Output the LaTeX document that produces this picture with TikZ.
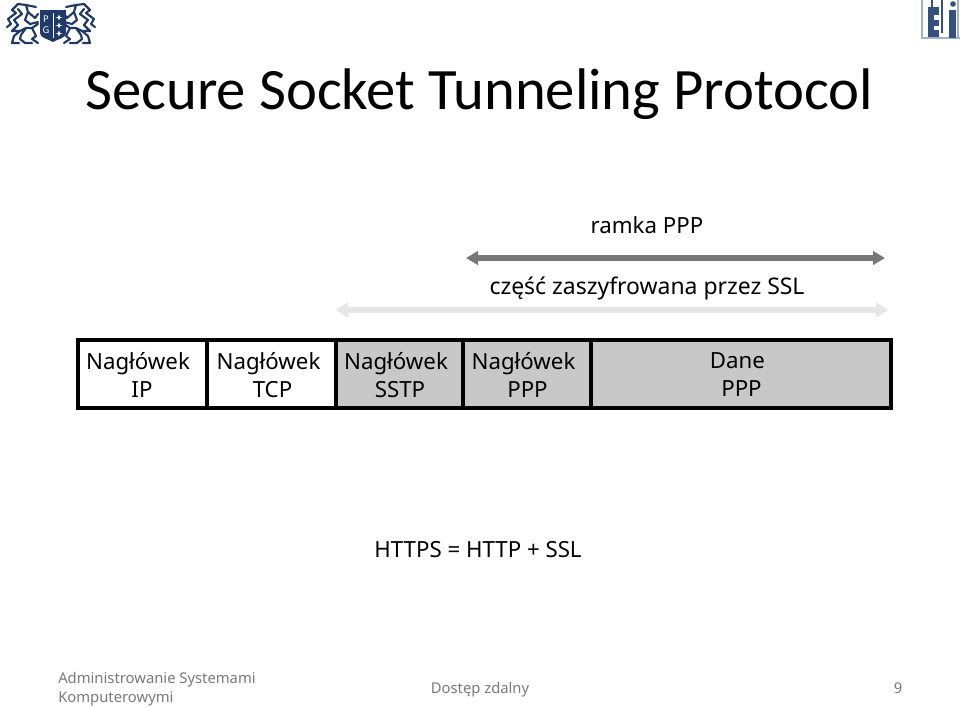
\documentclass[tikz,border=0pt]{standalone}
\usepackage{fontspec}
\setmainfont{Noto Sans}
\newfontfamily\titlefont{Carlito}
\definecolor{logoblue}{HTML}{1F3A68}
\definecolor{etiblue}{HTML}{34507F}
\definecolor{cellgray}{HTML}{C8C8C8}
\definecolor{arrowdark}{HTML}{777777}
\definecolor{arrowlight}{HTML}{E6E6E6}
\definecolor{footgray}{HTML}{7A7A7A}
\usetikzlibrary{arrows.meta}
\newcommand{\lineshift}{\hspace*{6pt}}
\tikzset{
 px/.style={x=0.75pt,y=-0.75pt},
 lab/.style={font=\fontsize{16.7pt}{21pt}\selectfont,text=black,inner sep=0pt,align=center},
 foot/.style={font=\fontsize{11.1pt}{14.2pt}\selectfont,text=footgray,inner sep=0pt,align=left},
 cell/.style={draw=black,line width=3pt,minimum height=51pt,inner sep=0pt,outer sep=0pt,anchor=west},
 span/.style={line width=4.2pt},
}
\begin{document}
\begin{tikzpicture}[px]
\useasboundingbox (0,0) rectangle (960,707);
\fill[white] (0,0) rectangle (960,707);

% university emblem
\begin{scope}[logoblue]
\fill (40,10) -- (66,10) -- (66,33) .. controls (66,38) and (58,39) .. (53,42) .. controls (48,39) and (40,38) .. (40,33) -- cycle;
\node[text=white,font=\fontsize{7pt}{7pt}\selectfont\bfseries,inner sep=0pt] at (46,19) {P};
\node[text=white,font=\fontsize{7pt}{7pt}\selectfont\bfseries,inner sep=0pt] at (46,30) {G};
\fill[white] (52.6,13) rectangle (53.6,38);
\foreach \yy in {17,25,33}{\fill[white] (59,\yy-2.5) -- (60,\yy) -- (62.5,\yy+.5) -- (60,\yy+1) -- (59,\yy+3.5) -- (58,\yy+1) -- (55.5,\yy+.5) -- (58,\yy) -- cycle;}
\foreach \m/\s in {0/1,102/-1}{
 \begin{scope}[shift={(\m,0)},xscale=\s]
 \draw[line width=1.6pt,line cap=round,line join=round]
   (36,7) -- (26,5) -- (18,4) -- (12,10) -- (16,13) -- (8,19) -- (11,24) -- (7,27)
   (18,9) -- (22,14) -- (14,20) -- (18,25) -- (12,31)
   (26,5) -- (28,12) -- (35,18) -- (38,14)
   (28,12) -- (25,20) -- (30,24) -- (38,22)
   (12,31) -- (20,31) -- (26,28) -- (32,28) -- (38,24)
   (20,31) -- (14,36) -- (12,43) -- (19,43)
   (26,28) -- (21,35) -- (20,39) -- (25,43) -- (32,43)
   (32,28) -- (36,36) -- (32,39) -- (38,43);
 \end{scope}}
\end{scope}

% faculty logo
\draw[line width=0.9pt,etiblue!45!white] (922,-1) -- (922,38) -- (961,38);
\draw[line width=0.9pt,etiblue!45!white] (958,0) -- (958,38);
\fill[etiblue] (928,7) rectangle (939,37);
\fill[white] (934,15) rectangle (939,20);
\fill[white] (934,26) rectangle (939,30);
\draw[line width=0.8pt,etiblue] (932,0) -- (932,7);
\draw[line width=0.8pt,etiblue] (942,0) -- (942,33);
\fill[etiblue] (949,10) rectangle (956,38);
\fill[etiblue] (953,4) circle (2.8);

% title
\node[font=\titlefont\fontsize{44pt}{48pt}\selectfont,text=black,inner sep=0pt,anchor=base west] (title) at (85,109) {Secure Socket Tunneling Protocol};

% labels
\node[lab] (ramka) at (647,225) {ramka PPP};
\node[lab,font=\fontsize{17.2pt}{21pt}\selectfont] (szyfr) at (647,288) {część zaszyfrowana przez SSL};

% spans
\coordinate (a1) at (466,258);
\coordinate (a2) at (885,258);
\coordinate (b1) at (336,310);
\coordinate (b2) at (888,310);
\draw[span,arrowdark,{Triangle[length=9pt,width=10pt]}-{Triangle[length=9pt,width=10pt]}] (a1) -- (a2);
\draw[span,arrowlight,{Triangle[length=9pt,width=11pt]}-{Triangle[length=9pt,width=11pt]}] (b1) -- (b2);

% frame
\node[cell,fill=white,minimum width=96.75pt] (ip) at (78,374) {};
\node[cell,fill=white,minimum width=96.75pt] (tcp) at (207,374) {};
\node[cell,fill=cellgray,minimum width=95.25pt] (sstp) at (336,374) {};
\node[cell,fill=cellgray,minimum width=96pt] (ppp) at (463,374) {};
\node[cell,fill=cellgray,minimum width=225pt] (dane) at (591,374) {};
\node[lab] at (138,375) {Nagłówek\\\lineshift IP};
\node[lab] at (268.5,375) {Nagłówek\\\lineshift TCP};
\node[lab] at (396,375) {Nagłówek\\\lineshift SSTP};
\node[lab] at (523.5,375) {Nagłówek\\\lineshift PPP};
\node[lab] at (737.5,375) {Dane\\\lineshift PPP};

\node[lab] (https) at (478,550) {HTTPS = HTTP + SSL};

% footer
\node[foot,anchor=base west] (f1) at (58,702) {Administrowanie Systemami\\Komputerowymi};
\node[foot,anchor=base] (f2) at (480,693) {Dostęp zdalny};
\node[foot,anchor=base] (f3) at (898,693) {9};
\end{tikzpicture}
\end{document}
